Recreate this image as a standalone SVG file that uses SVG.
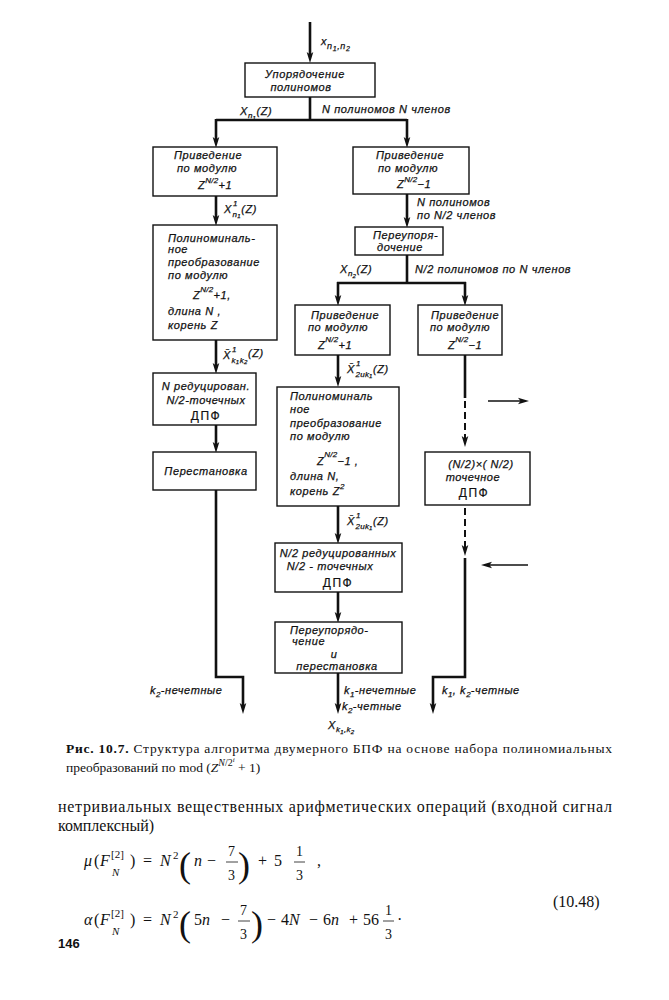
<svg xmlns="http://www.w3.org/2000/svg" width="669" height="1000" viewBox="0 0 669 1000">
<defs>
<marker id="ah" markerUnits="userSpaceOnUse" markerWidth="12" markerHeight="8" refX="4" refY="4" orient="auto">
<path d="M0,0.7 L11,4 L0,7.3 L2.5,4 z" fill="#111"/>
</marker>
<style>
.box{fill:#fff;stroke:#111;stroke-width:1.4}
.c{fill:none;stroke:#111;stroke-width:2.6}
.cd{fill:none;stroke:#111;stroke-width:2;stroke-dasharray:7 4}
.cs{fill:none;stroke:#111;stroke-width:1.6}
.t{font-family:"Liberation Sans",Arial,sans-serif;font-style:italic;font-size:11px;letter-spacing:0.6px;fill:#111;stroke:#111;stroke-width:0.25}
.m{text-anchor:middle}
.u{font-family:"Liberation Sans",Arial,sans-serif;font-style:normal;font-size:12px;letter-spacing:1.5px;fill:#111;stroke:#111;stroke-width:0.2}
.s{font-size:8px;letter-spacing:0.2px}
.cap{font-family:"Liberation Serif","Times New Roman",serif;font-size:13.5px;fill:#111}
.body{font-family:"Liberation Serif","Times New Roman",serif;font-size:16px;fill:#111}
.f{font-family:"Liberation Serif","Times New Roman",serif;font-size:16px;fill:#111}
.fi{font-style:italic}
.fs{font-size:11px}
.fr{font-size:14px}
.br{font-size:36px}
.fl{stroke:#111;stroke-width:0.8}
</style>
</defs>
<rect width="669" height="1000" fill="#fff"/>

<g id="connectors">
<path class="c" d="M310,22 V56" marker-end="url(#ah)"/>
<path class="c" d="M310,97 V120 M216,120 H407"/>
<path class="c" d="M216,119 V141" marker-end="url(#ah)"/>
<path class="c" d="M407,119 V141" marker-end="url(#ah)"/>
<path class="c" d="M216,196 V219" marker-end="url(#ah)"/>
<path class="c" d="M216,340 V367" marker-end="url(#ah)"/>
<path class="c" d="M216,425 V446" marker-end="url(#ah)"/>
<path class="c" d="M216,490 V677 H243 V707" marker-end="url(#ah)"/>
<path class="c" d="M407,194 V221" marker-end="url(#ah)"/>
<path class="c" d="M407,255 V283 M337,283 H466"/>
<path class="c" d="M338,282 V299" marker-end="url(#ah)"/>
<path class="c" d="M465,282 V299" marker-end="url(#ah)"/>
<path class="c" d="M338,355 V380" marker-end="url(#ah)"/>
<path class="c" d="M338,506 V537" marker-end="url(#ah)"/>
<path class="c" d="M338,592 V616" marker-end="url(#ah)"/>
<path class="c" d="M338,673 V707" marker-end="url(#ah)"/>
<path class="c" d="M465,355 V398"/>
<path class="cd" d="M465,401 V440" marker-end="url(#ah)"/>
<path class="cd" d="M465,508 V549" marker-end="url(#ah)"/>
<path class="c" d="M465,558 V677 H433 V707" marker-end="url(#ah)"/>
<path class="cs" d="M488,401 H522" marker-end="url(#ah)"/>
<path class="cs" d="M528,565 H488" marker-end="url(#ah)"/>
</g>

<g id="input-label">
<text class="t" x="321" y="45" font-size="14">x<tspan font-size="9" dy="4">n</tspan><tspan font-size="7" dy="2">1</tspan><tspan font-size="9" dy="-2">,n</tspan><tspan font-size="7" dy="2">2</tspan></text>
</g>

<g id="node-order">
<rect class="box" x="245" y="63" width="130" height="34"/>
<text class="t m" x="305" y="78">Упорядочение</text>
<text class="t m" x="301" y="91">полиномов</text>
</g>

<g id="split-labels">
<text class="t" x="240" y="115" font-size="12">X<tspan class="s" dy="3">n</tspan><tspan font-size="6" dy="2">1</tspan><tspan dy="-5">(Z)</tspan></text>
<text class="t" x="322" y="113">N полиномов  N членов</text>
</g>

<g id="node-left-reduce">
<rect class="box" x="153" y="147" width="124" height="49"/>
<text class="t m" x="208" y="159">Приведение</text>
<text class="t m" x="207" y="172">по модулю</text>
<text class="t" x="198" y="189">Z<tspan class="s" dy="-6">N/2</tspan><tspan dy="6">+1</tspan></text>
</g>

<g id="label-x1n1">
<text class="t" x="224" y="213" font-size="12">X<tspan class="s" dx="1" dy="-7">1</tspan><tspan class="s" dx="-5" dy="11">n</tspan><tspan font-size="6" dy="1">1</tspan><tspan dy="-5">(Z)</tspan></text>
</g>

<g id="node-left-poly">
<rect class="box" x="153" y="225" width="124" height="115"/>
<text class="t" x="168" y="242">Полиноминаль-</text>
<text class="t" x="168" y="253">ное</text>
<text class="t" x="168" y="266">преобразование</text>
<text class="t" x="168" y="279">по модулю</text>
<text class="t" x="193" y="299">Z<tspan class="s" dy="-7">N/2</tspan><tspan dy="7">+1,</tspan></text>
<text class="t" x="168" y="315">длина N ,</text>
<text class="t" x="168" y="329">корень Z</text>
</g>

<g id="label-xk1k2">
<text class="t" x="223" y="359" font-size="12">X̄<tspan class="s" dx="1" dy="-7">1</tspan><tspan class="s" dx="-5" dy="11">k</tspan><tspan font-size="6" dy="1">1</tspan><tspan class="s" dy="-1">k</tspan><tspan font-size="6" dy="1">2</tspan><tspan dy="-7">(Z)</tspan></text>
</g>

<g id="node-left-dft">
<rect class="box" x="153" y="373" width="103" height="52"/>
<text class="t m" x="206" y="390">N редуцирован.</text>
<text class="t m" x="206" y="404">N/2-точечных</text>
<text class="u m" x="206" y="420">ДПФ</text>
</g>

<g id="node-left-perm">
<rect class="box" x="153" y="452" width="103" height="38"/>
<text class="t m" x="206" y="475">Перестановка</text>
</g>

<g id="node-right-reduce">
<rect class="box" x="353" y="147" width="116" height="47"/>
<text class="t m" x="410" y="159">Приведение</text>
<text class="t m" x="408" y="172">по модулю</text>
<text class="t" x="397" y="188">Z<tspan class="s" dy="-6">N/2</tspan><tspan dy="6">−1</tspan></text>
</g>

<g id="right-labels">
<text class="t" x="417" y="206">N полиномов</text>
<text class="t" x="417" y="219">по N/2 членов</text>
</g>

<g id="node-reorder">
<rect class="box" x="355" y="227" width="88" height="28"/>
<text class="t" x="373" y="239">Переупоря-</text>
<text class="t" x="377" y="251">дочение</text>
</g>

<g id="split2-labels">
<text class="t" x="340" y="273" font-size="12">X<tspan class="s" dy="3">n</tspan><tspan font-size="6" dy="2">2</tspan><tspan dy="-5">(Z)</tspan></text>
<text class="t" x="415" y="273">N/2 полиномов по N членов</text>
</g>

<g id="node-mid-reduce">
<rect class="box" x="295" y="305" width="95" height="50"/>
<text class="t m" x="345" y="319">Приведение</text>
<text class="t m" x="338" y="331">по модулю</text>
<text class="t" x="318" y="349">Z<tspan class="s" dy="-7">N/2</tspan><tspan dy="7">+1</tspan></text>
</g>

<g id="node-far-reduce">
<rect class="box" x="418" y="305" width="84" height="50"/>
<text class="t m" x="465" y="319">Приведение</text>
<text class="t m" x="460" y="331">по модулю</text>
<text class="t" x="448" y="349">Z<tspan class="s" dy="-7">N/2</tspan><tspan dy="7">−1</tspan></text>
</g>

<g id="label-x2uk1-a">
<text class="t" x="347" y="373" font-size="12">X̄<tspan class="s" dx="1" dy="-7">1</tspan><tspan class="s" dx="-5" dy="11">2uk</tspan><tspan font-size="6" dy="1">1</tspan><tspan dy="-5">(Z)</tspan></text>
</g>

<g id="node-mid-poly">
<rect class="box" x="277" y="387" width="122" height="119"/>
<text class="t" x="290" y="400">Полиноминаль</text>
<text class="t" x="290" y="413">ное</text>
<text class="t" x="290" y="427">преобразование</text>
<text class="t" x="290" y="440">по модулю</text>
<text class="t" x="317" y="465">Z<tspan class="s" dy="-8">N/2</tspan><tspan dy="8">−1 ,</tspan></text>
<text class="t" x="290" y="480">длина N,</text>
<text class="t" x="290" y="495">корень Z<tspan class="s" dy="-6">2</tspan></text>
</g>

<g id="label-x2uk1-b">
<text class="t" x="347" y="525" font-size="12">X̄<tspan class="s" dx="1" dy="-7">1</tspan><tspan class="s" dx="-5" dy="11">2uk</tspan><tspan font-size="6" dy="1">1</tspan><tspan dy="-5">(Z)</tspan></text>
</g>

<g id="node-mid-dft">
<rect class="box" x="275" y="543" width="127" height="49"/>
<text class="t m" x="338" y="557">N/2 редуцированных</text>
<text class="t m" x="330" y="570">N/2 - точечных</text>
<text class="u m" x="338" y="587">ДПФ</text>
</g>

<g id="node-mid-reorder">
<rect class="box" x="275" y="622" width="127" height="51"/>
<text class="t" x="290" y="634">Переупорядо-</text>
<text class="t" x="292" y="645">чение</text>
<text class="t m" x="334" y="658">и</text>
<text class="t m" x="337" y="670">перестановка</text>
</g>

<g id="node-far-dft">
<rect class="box" x="425" y="452" width="105" height="53"/>
<text class="t m" x="481" y="468">(N/2)×( N/2)</text>
<text class="t m" x="473" y="481">точечное</text>
<text class="u m" x="474" y="497">ДПФ</text>
</g>

<g id="output-labels">
<text class="t" x="150" y="694">k<tspan class="s" dy="3">2</tspan><tspan dy="-3">-нечетные</tspan></text>
<text class="t" x="344" y="694">k<tspan class="s" dy="3">1</tspan><tspan dy="-3">-нечетные</tspan></text>
<text class="t" x="342" y="710">k<tspan class="s" dy="3">2</tspan><tspan dy="-3">-четные</tspan></text>
<text class="t" x="328" y="729" font-size="12">X<tspan class="s" dy="3">k</tspan><tspan font-size="6" dy="2">1</tspan><tspan class="s" dy="-2">,k</tspan><tspan font-size="6" dy="2">2</tspan></text>
<text class="t" x="442" y="694">k<tspan class="s" dy="3">1</tspan><tspan dy="-3">, k</tspan><tspan class="s" dy="3">2</tspan><tspan dy="-3">-четные</tspan></text>
</g>

<g id="caption">
<text class="cap" x="66" y="753" textLength="546" lengthAdjust="spacing"><tspan font-weight="bold">Рис. 10.7.</tspan> Структура алгоритма двумерного БПФ на основе набора полиномиальных</text>
<text class="cap" x="66" y="772">преобразований по mod (<tspan font-style="italic">Z</tspan><tspan font-size="10" font-style="italic" dy="-6">N</tspan><tspan font-size="10" dy="0">/2</tspan><tspan font-size="7" font-style="italic" dy="-4">i</tspan><tspan dy="10"> + 1)</tspan></text>
</g>

<g id="body-text">
<text class="body" x="58" y="812" textLength="554" lengthAdjust="spacing">нетривиальных вещественных арифметических операций (входной сигнал</text>
<text class="body" x="58" y="831">комплексный)</text>
</g>

<g id="formula-1">
<text class="f" y="866"><tspan class="fi" x="84">μ</tspan><tspan x="94">(</tspan><tspan class="fi" x="100">F</tspan></text>
<text class="f fs" x="111" y="858">[2]</text>
<text class="f fs fi" x="112" y="876">N</text>
<text class="f" x="130" y="866">)</text>
<text class="f" x="143" y="866">=</text>
<text class="f fi" x="160" y="866">N</text>
<text class="f fs" x="173" y="859">2</text>
<text class="f br" x="179" y="877">(</text>
<text class="f fi" x="194" y="866">n</text>
<text class="f" x="207" y="866">−</text>
<text class="f fr" x="228" y="856">7</text>
<line class="fl" x1="226" y1="862" x2="238" y2="862"/>
<text class="f fr" x="228" y="880">3</text>
<text class="f br" x="238" y="877">)</text>
<text class="f" x="258" y="866">+</text>
<text class="f" x="274" y="866">5</text>
<text class="f fr" x="296" y="856">1</text>
<line class="fl" x1="294" y1="862" x2="305" y2="862"/>
<text class="f fr" x="296" y="880">3</text>
<text class="f" x="317" y="866">,</text>
</g>

<g id="formula-2">
<text class="f" y="925"><tspan class="fi" x="84">α</tspan><tspan x="94">(</tspan><tspan class="fi" x="100">F</tspan></text>
<text class="f fs" x="111" y="917">[2]</text>
<text class="f fs fi" x="112" y="935">N</text>
<text class="f" x="130" y="925">)</text>
<text class="f" x="143" y="925">=</text>
<text class="f fi" x="160" y="925">N</text>
<text class="f fs" x="173" y="918">2</text>
<text class="f br" x="179" y="936">(</text>
<text class="f" x="194" y="925">5<tspan class="fi">n</tspan></text>
<text class="f" x="221" y="925">−</text>
<text class="f fr" x="240" y="915">7</text>
<line class="fl" x1="238" y1="921" x2="250" y2="921"/>
<text class="f fr" x="240" y="939">3</text>
<text class="f br" x="251" y="936">)</text>
<text class="f" x="267" y="925">−</text>
<text class="f" x="281" y="925">4<tspan class="fi">N</tspan></text>
<text class="f" x="309" y="925">−</text>
<text class="f" x="323" y="925">6<tspan class="fi">n</tspan></text>
<text class="f" x="349" y="925">+</text>
<text class="f" x="363" y="925">56</text>
<text class="f fr" x="385" y="915">1</text>
<line class="fl" x1="383" y1="921" x2="394" y2="921"/>
<text class="f fr" x="385" y="939">3</text>
<text class="f" x="397" y="925">·</text>
<text class="f" x="553" y="907">(10.48)</text>
</g>

<g id="page-number">
<text x="58" y="948" font-family="Liberation Sans, Arial, sans-serif" font-weight="bold" font-size="13" fill="#111">146</text>
</g>
</svg>
